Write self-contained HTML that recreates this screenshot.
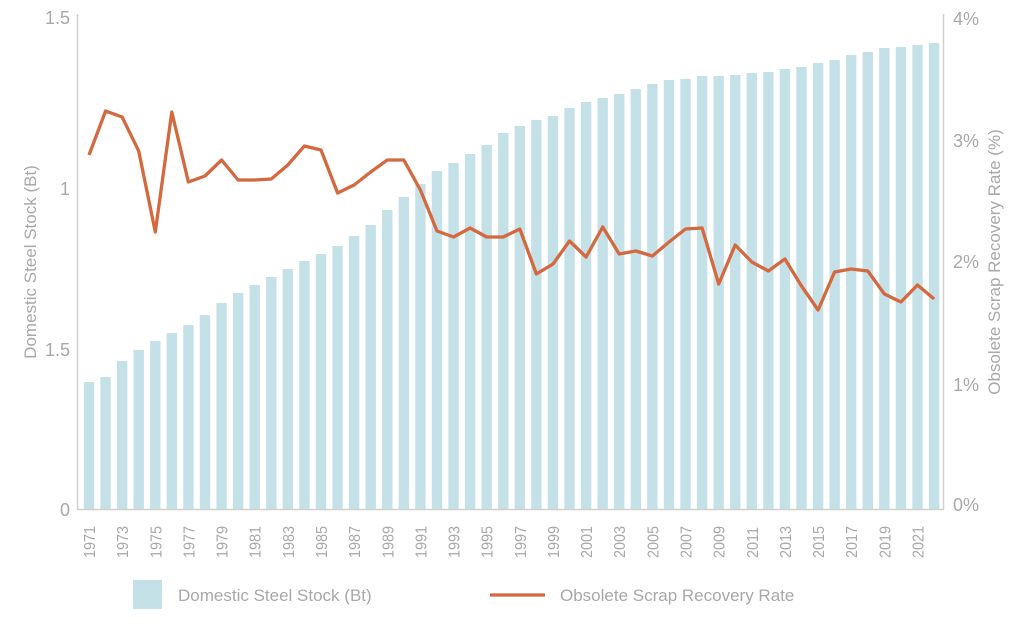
<!DOCTYPE html>
<html><head><meta charset="utf-8"><style>
html,body{margin:0;padding:0;background:#fff;}
svg{display:block;font-family:"Liberation Sans",sans-serif;}
</style></head><body>
<svg width="1024" height="635" viewBox="0 0 1024 635" xmlns="http://www.w3.org/2000/svg">
<g id="bars" fill="#c5e1e8"></g>
<line x1="77.5" y1="14" x2="77.5" y2="509.5" stroke="#d0d0d0" stroke-width="1.5"/>
<line x1="943.5" y1="14" x2="943.5" y2="509.5" stroke="#d0d0d0" stroke-width="1.5"/>
<line x1="77" y1="509.5" x2="944" y2="509.5" stroke="#d0d0d0" stroke-width="1.5"/>
<g fill="#a8a8a8" font-size="18" text-anchor="end">
<text x="70" y="24">1.5</text>
<text x="70" y="195">1</text>
<text x="70" y="356">1.5</text>
<text x="70" y="516">0</text>
</g>
<g fill="#a8a8a8" font-size="18" text-anchor="start">
<text x="953" y="25">4%</text>
<text x="953" y="147">3%</text>
<text x="953" y="268">2%</text>
<text x="953" y="391">1%</text>
<text x="953" y="511">0%</text>
</g>
<text transform="translate(36,262) rotate(-90)" fill="#a8a8a8" font-size="17" text-anchor="middle">Domestic Steel Stock (Bt)</text>
<text transform="translate(1000,262) rotate(-90)" fill="#a8a8a8" font-size="17" text-anchor="middle">Obsolete Scrap Recovery Rate (%)</text>
<g id="years" fill="#a8a8a8" font-size="16"></g>
<polyline id="line" fill="none" stroke="#d4683f" stroke-width="3.3" stroke-linejoin="round"/>
<rect x="133" y="580" width="29" height="29" fill="#c5e1e8"/>
<text x="178" y="601" fill="#a8a8a8" font-size="17">Domestic Steel Stock (Bt)</text>
<line x1="490" y1="595" x2="545" y2="595" stroke="#d4683f" stroke-width="3.3"/>
<text x="560" y="601" fill="#a8a8a8" font-size="17">Obsolete Scrap Recovery Rate</text>
</svg>
<script>
var tops=[382,377,361,350,341,333,325,315,303,293,285,277,269,261,254,246,236,225,210,197,184,171,163,154,145,133,126,120,116,108,102,98,94,89,84,80,79,76,76,75,73,72,69,67,63,60,55,52,48,47,45,43];
var ly=[155,111,117,151,232,112,182,176,160,180,180,179,165,146,150,193,185,172,160,160,190,231,237,228,237,237,229,274,264,241,257,227,254,251,256,242,229,228,284,245,262,271,259,286,310,272,269,271,294,302,285,299];
var ns="http://www.w3.org/2000/svg",b=document.getElementById('bars'),yr=document.getElementById('years'),pts=[];
for(var i=0;i<52;i++){var cx=89+i*16.57;
var r=document.createElementNS(ns,'rect');r.setAttribute('x',cx-5.2);r.setAttribute('y',tops[i]);r.setAttribute('width',10.4);r.setAttribute('height',509-tops[i]);b.appendChild(r);
pts.push(cx.toFixed(1)+','+ly[i]);
if(i%2==0){var t=document.createElementNS(ns,'text');t.setAttribute('transform','translate('+(cx+6)+',558) rotate(-90) scale(0.9,1)');t.textContent=1971+i;yr.appendChild(t);}}
document.getElementById('line').setAttribute('points',pts.join(' '));
</script>
</body></html>
